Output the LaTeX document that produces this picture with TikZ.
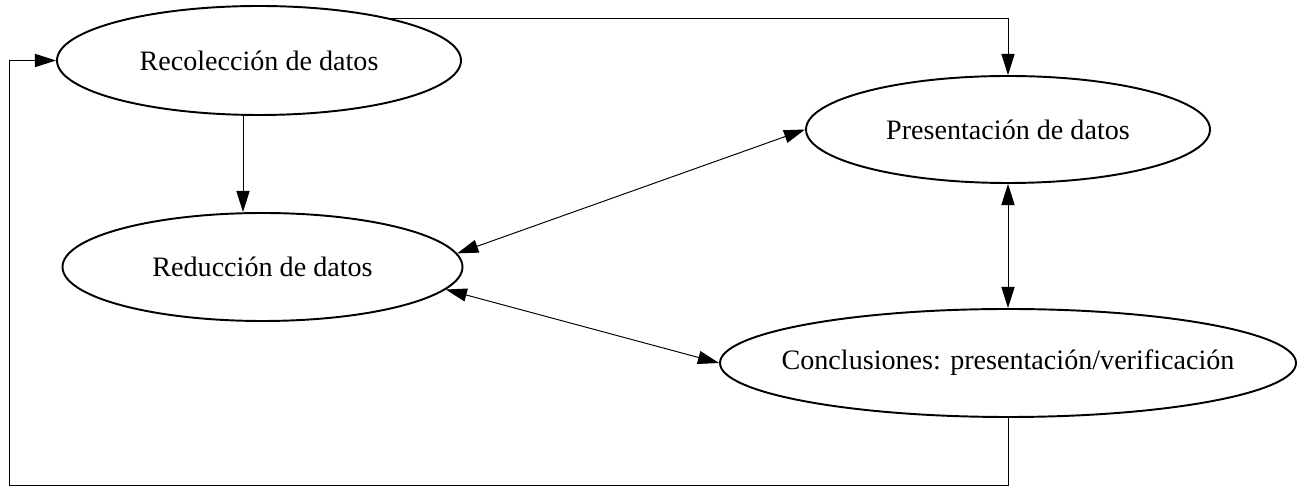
\documentclass[tikz,border=0pt]{standalone}
\usepackage{fontspec}
\setmainfont{Liberation Serif}
\usetikzlibrary{shapes.geometric, arrows.meta}
\tikzset{>={Triangle[length=12pt, width=7.5pt]}}
\tikzset{etapa/.style={draw, ellipse, line width=1.1pt, inner sep=0pt, font=\fontsize{16}{19}\selectfont}}
\tikzset{flecha/.style={line width=.55pt}}

\begin{document}
\begin{tikzpicture}
    \useasboundingbox(0, 0) rectangle (26.12, 9.76);
    \node[etapa, minimum width=8.08cm, minimum height=2.18cm](rec) at (5.18, 8.55){Recolección de datos};
    \node[etapa, minimum width=8cm, minimum height=2.16cm](red) at (5.25, 4.42){Reducción de datos};
    \node[etapa, minimum width=8.08cm, minimum height=2.14cm](pres) at (20.16, 7.17){Presentación de datos};
    \node[etapa, minimum width=11.52cm, minimum height=2.16cm, inner xsep=-.6cm](conc) at (20.16, 2.5){Conclusiones: presentación/verificación};
    \coordinate(esq) at (.18, .06);
    \coordinate(baja) at ([xshift=-3.2mm]rec.south);
    \draw[flecha, ->](baja)--(baja |- red.north);
    \draw[flecha, ->](rec.18)-|(pres.north);
    \draw[flecha, <->](red.4)--(pres.west);
    \draw[flecha, <->](red.-7)--(conc.west);
    \draw[flecha, <->](pres.south)--(conc.north);
    \draw[flecha, ->](conc.south)|-(esq)|-(rec.west);
\end{tikzpicture}
\end{document}
